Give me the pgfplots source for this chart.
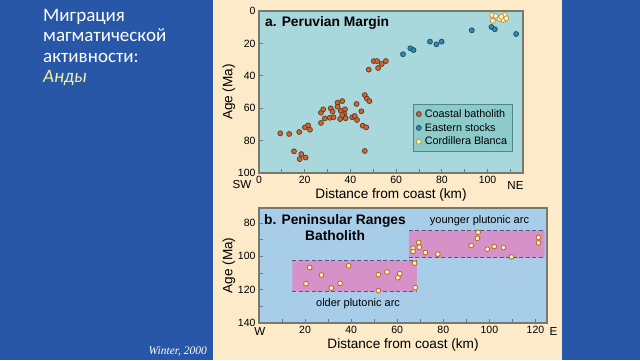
\documentclass[border=0pt]{standalone}
\usepackage{pgfplots}
\pgfplotsset{compat=1.18}
\usepackage{fontspec}
\setmainfont{Liberation Sans}
\newfontfamily\carlito{Carlito}
\newfontfamily\tnr{Liberation Serif}
\definecolor{slideblue}{HTML}{2757A6}
\definecolor{cream}{HTML}{FCEAC8}
\definecolor{tealbg}{HTML}{A9D8DC}
\definecolor{bluebg}{HTML}{A7CDE9}
\definecolor{pinkband}{HTML}{D591C8}
\definecolor{framecol}{HTML}{767A6E}
\definecolor{dashcol}{HTML}{5E5277}
\definecolor{coastfill}{HTML}{D2652E}
\definecolor{coastedge}{HTML}{5A3A28}
\definecolor{eastfill}{HTML}{2A8AB0}
\definecolor{eastedge}{HTML}{1F4B66}
\definecolor{cordfill}{HTML}{FDF5D5}
\definecolor{cordedge}{HTML}{C0902F}
\definecolor{ptfill}{HTML}{FFF8B0}
\definecolor{ptedge}{HTML}{B8642A}
\definecolor{legfill}{HTML}{8DCACA}
\definecolor{legdraw}{HTML}{4A8A8A}
\definecolor{andy}{HTML}{EEF0A8}
\begin{document}
\begin{tikzpicture}[x=1pt,y=1pt]
\fill[slideblue] (0,0) rectangle (640,360);
\fill[cream] (213,0) rectangle (562,360);
\useasboundingbox (0,0) rectangle (640,360);
\node[anchor=base west, text=white, font=\carlito\fontsize{19}{20}\selectfont, inner sep=0] at (43,339) {Миграция};
\node[anchor=base west, text=white, font=\carlito\fontsize{19}{20}\selectfont, inner sep=0] at (43,318.5) {магматической};
\node[anchor=base west, text=white, font=\carlito\fontsize{19}{20}\selectfont, inner sep=0] at (43,298) {активности:};
\node[anchor=base west, text=andy, font=\carlito\itshape\fontsize{19}{20}\selectfont, inner sep=0] at (43,277.5) {Анды};
\node[anchor=base east, text=white, font=\tnr\itshape\fontsize{11.5}{13}\selectfont, inner sep=0] at (207,6) {Winter, 2000};

\pgfplotsset{
  slidestyle/.style={
    scale only axis, clip=false,
    y dir=reverse,
    tick align=inside, major tick length=4pt, minor tick length=4pt,
    xtick pos=bottom, ytick pos=left,
    axis line style={draw=framecol, line width=1.5pt},
    every tick/.style={draw=framecol, line width=1pt},
    ticklabel style={font=\fontsize{10.5}{12}\selectfont, text=black},
    /pgf/number format/assume math mode=true,
    label style={font=\fontsize{13.6}{15}\selectfont},
    xlabel={Distance from coast (km)}, ylabel={Age (Ma)},
  }
}

\begin{axis}[slidestyle,
  at={(259pt,187pt)}, anchor=south west, width=264pt, height=162pt,
  xmin=0, xmax=115.5, ymin=0, ymax=100,
  xtick={0,20,...,100}, minor xtick={10,30,...,110},
  ytick={0,20,...,100},
  axis background/.style={fill=tealbg},
  xlabel style={yshift=2pt}, ylabel style={yshift=-4pt},
  legend style={at={(0.583,0.426)}, anchor=north west, fill=legfill, draw=legdraw, line width=0.8pt,
    font=\fontsize{10.8}{12}\selectfont, row sep=0.5pt, column sep=1.5pt, inner sep=3pt},
  legend cell align=left,
]
\addplot[only marks, mark=*, mark size=2.5pt, mark options={fill=coastfill, draw=coastedge, line width=0.7pt}] coordinates {
(9.3,75.5) (13.2,75.9) (17.6,74.7) (20.1,71.8) (21.5,70.6) (22.3,73.3) (15.3,86.6) (18.5,88.3) (17.8,91.4) (20.4,90.5)
(27.1,69.1) (27.1,62.8) (28.1,60.7) (28.8,66.3) (31,65.9) (31.4,60.1) (32.2,62.1) (32.6,65.6) (34.4,56.6) (34.4,59.1)
(36.4,55.6) (35.8,61.7) (35.5,66.7) (37.6,60.7) (37.3,63.6) (37.9,66.2) (36.4,64.2) (40.8,65.6) (41.9,64.8) (42.9,67.3)
(42.7,57.4) (44.8,61.9) (46.3,51.9) (47.2,54.1) (48.3,55.6) (45.4,70.8) (46.9,71.8) (46.3,86.4) (48,36.2) (50.2,30.9)
(51.7,30.9) (52.1,35.2) (53.7,32.7) (55.5,30.9)};
\addlegendentry{Coastal batholith}
\addplot[only marks, mark=*, mark size=2.5pt, mark options={fill=eastfill, draw=eastedge, line width=0.7pt}] coordinates {
(63,26.7) (66.2,23) (67.6,24.1) (74.8,18.9) (77.6,20.6) (79.9,18.9) (93.1,11.9) (101.7,9.9) (103.2,11.3) (112.5,14.2)};
\addlegendentry{Eastern stocks}
\addplot[only marks, mark=*, mark size=2.5pt, mark options={fill=cordfill, draw=cordedge, line width=0.7pt}] coordinates {
(102,2.5) (102.3,6) (104.1,4.1) (105.2,4.9) (107,5.6) (107.6,2.5) (108.2,4.5) (106,3.5) (103.5,3)};
\addlegendentry{Cordillera Blanca}
\node[anchor=west, font=\bfseries\fontsize{13.8}{15}\selectfont, inner sep=0] at (axis cs:2.6,7.6) {a. Peruvian Margin};
\node[font=\fontsize{11.6}{13}\selectfont, inner sep=0] at (axis cs:-7.4,106.8) {SW};
\node[font=\fontsize{11.6}{13}\selectfont, inner sep=0] at (axis cs:112.2,108) {NE};
\end{axis}

\begin{axis}[slidestyle,
  at={(259pt,37pt)}, anchor=south west, width=288pt, height=115pt,
  xmin=0, xmax=125, ymin=71, ymax=140,
  xtick={20,40,...,120}, minor xtick={10,30,...,110},
  ytick={80,100,120,140}, minor ytick={90,110,130},
  axis background/.style={fill=bluebg},
  xlabel style={yshift=2pt}, ylabel style={yshift=-4pt},
]
\addplot[fill=pinkband, draw=none] coordinates {(14.5,102.5) (68.5,102.5) (68.5,121) (14.5,121) (14.5,102.5)};
\addplot[fill=pinkband, draw=none] coordinates {(65,84.6) (124,84.6) (124,100.8) (65,100.8) (65,84.6)};
\addplot[dashcol, line width=1pt, dash pattern=on 4pt off 2.5pt] coordinates {(14.5,102.5) (68.5,102.5)};
\addplot[dashcol, line width=1pt, dash pattern=on 4pt off 2.5pt] coordinates {(14.5,121) (68.5,121)};
\addplot[dashcol, line width=1pt, dash pattern=on 4pt off 2.5pt] coordinates {(65,84.6) (124,84.6)};
\addplot[dashcol, line width=1pt, dash pattern=on 4pt off 2.5pt] coordinates {(65,100.8) (124,100.8)};
\addplot[only marks, mark=*, mark size=2.4pt, mark options={fill=ptfill, draw=ptedge, line width=0.8pt}] coordinates {
(22,106.7) (20.4,116.4) (27.1,111.2) (31.4,119) (35.2,116.2) (38.9,105.7) (51.8,111) (51.8,120.6) (55.6,109.4) (60.3,112.8)
(61.1,110.4) (67.5,104.1) (67.8,118.8) (66.9,95.1) (66.9,97.1) (69.3,91.7) (69.6,94.5) (72.2,97.7) (77.6,98.7) (92.1,93.5)
(94.8,89.2) (95.1,85.6) (99.1,95.7) (102.1,94.1) (106.1,94.7) (109.6,100.3) (121.3,88.7) (121.3,91.9)};
\node[align=center, font=\bfseries\fontsize{13.8}{16}\selectfont, inner sep=0] at (axis cs:33,83) {b. Peninsular Ranges\\Batholith};
\node[font=\fontsize{11}{13}\selectfont, inner sep=0] at (axis cs:43,128.4) {older plutonic arc};
\node[font=\fontsize{11}{13}\selectfont, inner sep=0] at (axis cs:95.7,78.8) {younger plutonic arc};
\node[font=\fontsize{11.6}{13}\selectfont, inner sep=0] at (axis cs:0.4,145.4) {W};
\node[font=\fontsize{11.6}{13}\selectfont, inner sep=0] at (axis cs:127.8,145.4) {E};
\end{axis}
\end{tikzpicture}
\end{document}
